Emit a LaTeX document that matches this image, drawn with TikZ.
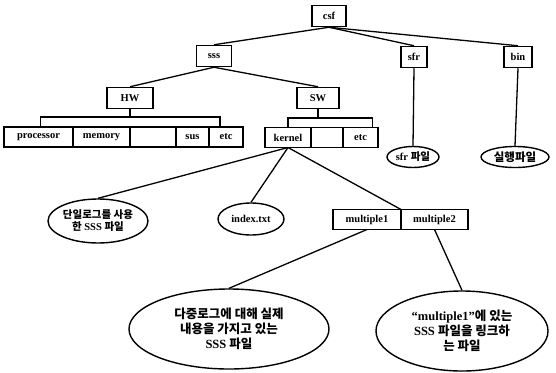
\documentclass[tikz,border=0pt]{standalone}
\usepackage{fontspec}
\setmainfont{Liberation Serif}
\newfontfamily\kr{Noto Sans CJK KR}
\usetikzlibrary{positioning,shapes.geometric}

\begin{document}
\begin{tikzpicture}[x=1pt,y=-1pt,font=\fontsize{10.5}{12}\selectfont\bfseries,
  box/.style={draw,line width=1.5pt,minimum height=21pt,inner sep=2pt},
  cell/.style={draw,line width=1.4pt,minimum height=20pt,inner sep=1pt,outer sep=0pt},
  leaf/.style={draw,ellipse,line width=1.4pt,inner sep=0pt,align=center},
  bigleaf/.style={leaf,font=\fontsize{12.5}{15}\selectfont\bfseries},
  link/.style={line width=1.3pt}]
  \useasboundingbox (0,0) rectangle (556,372);
  % directories
  \node[box,minimum width=34pt] (csf) at (329,16) {csf};
  \node[box,minimum width=35pt] (sss) at (214,56) {sss};
  \node[box,minimum width=26pt] (sfr) at (414,57) {sfr};
  \node[box,minimum width=28pt] (bin) at (518,57) {bin};
  \node[box,minimum width=46pt] (hw) at (130,98) {HW};
  \node[box,minimum width=42pt] (sw) at (318,98) {SW};
  % HW row
  \node[cell,minimum width=69pt,anchor=west] (proc) at (4,137) {processor};
  \node[cell,minimum width=57pt,right=0pt of proc] (mem) {memory};
  \node[cell,minimum width=46pt,right=0pt of mem] (hwblank) {};
  \node[cell,minimum width=33pt,right=0pt of hwblank] (sus) {sus};
  \node[cell,minimum width=34pt,right=0pt of sus] (hwetc) {etc};
  % SW row
  \node[cell,minimum width=46pt,anchor=west] (kernel) at (265,137.5) {kernel};
  \node[cell,minimum width=32pt,right=0pt of kernel] (swblank) {};
  \node[cell,minimum width=35pt,right=0pt of swblank] (swetc) {etc};
  % multiple row
  \node[cell,minimum width=68pt,anchor=west] (mul1) at (333,219.5) {multiple1};
  \node[cell,minimum width=67pt,right=0pt of mul1] (mul2) {multiple2};
  % files
  \node[leaf,minimum width=52pt,minimum height=21pt] (sfrfile) at (413,157) {sfr {\kr 파일}};
  \node[leaf,minimum width=68pt,minimum height=21pt] (binfile) at (515,157)
    {\fontsize{11.5}{12}\kr 실행파일};
  \node[leaf,minimum width=100pt,minimum height=44pt] (single) at (98,221)
    {{\kr 단일로그를 사용}\\{\kr 한} SSS {\kr 파일}};
  \node[leaf,minimum width=66pt,minimum height=32pt] (index) at (251,219) {index.txt};
  \node[bigleaf,minimum width=200pt,minimum height=80pt] (multi) at (229,329)
    {{\kr 다중로그에 대해 실제}\\{\kr 내용을 가지고 있는}\\SSS {\kr 파일}};
  \node[bigleaf,minimum width=172pt,minimum height=80pt] (linkfile) at (462,331)
    {“multiple1”{\kr 에 있는}\\SSS {\kr 파일을 링크하}\\{\kr 는 파일}};
  % brackets
  \coordinate (hwbar) at (130,117);
  \coordinate (swbar) at (318,118);
  \draw[link] (hw.south) -- (hwbar);
  \draw[link] ([xshift=2pt]proc.north) |- (hwbar) -| ([xshift=-6pt]hwetc.north);
  \draw[link] (sw.south) -- (swbar);
  \draw[link] (kernel.north) |- (swbar) -| ([xshift=12pt]swetc.north);
  % tree edges
  \draw[link] (csf.south) -- (sss.north); \draw[link] (csf.south) -- (sfr.north);
  \draw[link] (csf.south) -- (bin.north);
  \draw[link] (sss.south) -- (hw.north); \draw[link] (sss.south) -- (sw.north);
  \draw[link] (sfr.south) -- (sfrfile.north); \draw[link] (bin.south) -- (binfile.north);
  \draw[link] (kernel.south) -- (single.north); \draw[link] (kernel.south) -- (index.north);
  \draw[link] (kernel.south) -- (mul1.north east);
  \draw[link] (mul1.south) -- (multi.north); \draw[link] (mul2.south) -- (linkfile.north);
\end{tikzpicture}
\end{document}
